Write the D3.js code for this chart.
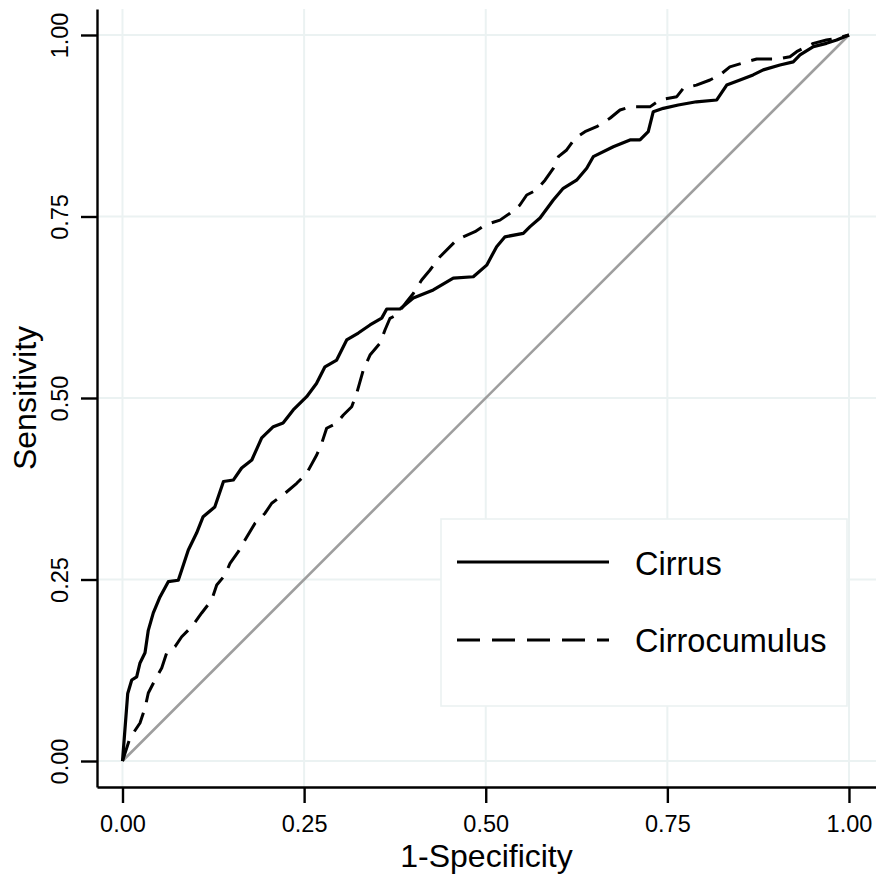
<!DOCTYPE html>
<html>
<head>
<meta charset="utf-8">
<script src="https://cdn.jsdelivr.net/npm/d3@7/dist/d3.min.js"></script>
<style>
  html, body { margin: 0; padding: 0; background: #fff; }
  svg { display: block; }
  text { font-family: "Liberation Sans", Arial, Helvetica, sans-serif; fill: #000; }
</style>
</head>
<body>
<svg id="chart" width="876" height="874"></svg>
<script>
// ROC curves: false-positive rate (1-Specificity) vs true-positive rate (Sensitivity)
const seriesNames = ["Cirrus", "Cirrocumulus"];

const cirrusFpr = [0, 0.0072, 0.0127, 0.0195, 0.0241, 0.031, 0.0355, 0.0424, 0.0516, 0.063,
  0.0768, 0.0815, 0.0906, 0.102, 0.111, 0.127, 0.139, 0.1525, 0.164, 0.178,
  0.1916, 0.2076, 0.221, 0.235, 0.2535, 0.267, 0.2787, 0.2948, 0.3086, 0.3246,
  0.3407, 0.3568, 0.3637, 0.382, 0.4003, 0.4278, 0.4553, 0.4829, 0.5013, 0.515,
  0.5265, 0.5517, 0.561, 0.5747, 0.593, 0.6067, 0.625, 0.639, 0.648, 0.6756,
  0.6986, 0.7123, 0.7237, 0.7306, 0.7444, 0.765, 0.79, 0.818, 0.8317, 0.85,
  0.868, 0.882, 0.905, 0.9233, 0.9326, 0.951, 0.969, 0.983, 1];
const cirrusTpr = [0, 0.093, 0.1116, 0.116, 0.135, 0.149, 0.18, 0.204, 0.226, 0.247,
  0.249, 0.263, 0.2906, 0.314, 0.3365, 0.35, 0.385, 0.387, 0.4036, 0.4146,
  0.445, 0.4605, 0.4656, 0.4835, 0.5018, 0.52, 0.543, 0.5523, 0.58, 0.5895,
  0.6006, 0.61, 0.6226, 0.6226, 0.6377, 0.6488, 0.665, 0.667, 0.683, 0.7084,
  0.722, 0.7268, 0.736, 0.748, 0.7727, 0.7888, 0.8, 0.8164, 0.8324, 0.846,
  0.8554, 0.8554, 0.8668, 0.8943, 0.899, 0.9036, 0.908, 0.9105, 0.931, 0.938,
  0.945, 0.952, 0.9587, 0.963, 0.9725, 0.984, 0.9885, 0.993, 1];

const cirrocumulusFpr = [0, 0.0103, 0.0241, 0.031, 0.0355, 0.0447, 0.054, 0.0608, 0.0723, 0.0815,
  0.0953, 0.109, 0.1228, 0.1297, 0.141, 0.148, 0.1594, 0.1686, 0.1824, 0.196,
  0.2054, 0.2237, 0.2398, 0.2535, 0.2673, 0.2742, 0.281, 0.2948, 0.304, 0.3155,
  0.3224, 0.3315, 0.3407, 0.3544, 0.3613, 0.3682, 0.3774, 0.3912, 0.4003, 0.4118,
  0.4233, 0.437, 0.46, 0.469, 0.4852, 0.499, 0.5196, 0.5334, 0.547, 0.5564,
  0.57, 0.5816, 0.593, 0.6, 0.6114, 0.6229, 0.6366, 0.6527, 0.671, 0.6848,
  0.6986, 0.726, 0.74, 0.763, 0.772, 0.79, 0.8087, 0.8224, 0.836, 0.859,
  0.873, 0.9027, 0.9188, 0.928, 0.937, 0.951, 0.969, 0.983, 1];
const cirrocumulusTpr = [0, 0.0317, 0.0523, 0.073, 0.0937, 0.1116, 0.128, 0.1488, 0.1575, 0.1712,
  0.185, 0.2039, 0.2218, 0.2424, 0.256, 0.2723, 0.2883, 0.3044, 0.3274, 0.341,
  0.355, 0.3687, 0.3825, 0.3963, 0.4215, 0.4376, 0.4583, 0.4651, 0.4766, 0.488,
  0.5065, 0.5386, 0.5592, 0.5753, 0.5937, 0.6098, 0.6143, 0.6326, 0.644, 0.6625,
  0.6763, 0.6946, 0.7176, 0.722, 0.729, 0.7383, 0.745, 0.7544, 0.7658, 0.7796,
  0.7865, 0.8, 0.8164, 0.8324, 0.8416, 0.8577, 0.8668, 0.8737, 0.8853, 0.8967,
  0.901, 0.901, 0.9105, 0.915, 0.9266, 0.931, 0.938, 0.945, 0.956, 0.963,
  0.967, 0.967, 0.97, 0.977, 0.9816, 0.9885, 0.993, 0.9955, 1];

const xTicks = [0, 0.25, 0.5, 0.75, 1];
const yTicks = [0, 0.25, 0.5, 0.75, 1];
const tickLabels = ["0.00", "0.25", "0.50", "0.75", "1.00"];

const svg = d3.select("#chart");
const W = 876, H = 874;
const panel = { left: 97, right: 876, top: 9, bottom: 787 };
const gridColor = "#ebf2f2";
const font = "'Liberation Sans', Arial, Helvetica, sans-serif";

const x = d3.scaleLinear().domain([-0.0351, 1.0372]).range([panel.left, panel.right]);
const y = d3.scaleLinear().domain([-0.0358, 1.0358]).range([panel.bottom, panel.top]);

svg.append("rect").attr("width", W).attr("height", H).attr("fill", "#fff");

// grid
const grid = svg.append("g");
grid.selectAll("line.gx").data(xTicks).join("line")
  .attr("x1", d => x(d)).attr("x2", d => x(d))
  .attr("y1", panel.top).attr("y2", panel.bottom)
  .attr("stroke", gridColor).attr("stroke-width", 2);
grid.selectAll("line.gy").data(yTicks).join("line")
  .attr("y1", d => y(d)).attr("y2", d => y(d))
  .attr("x1", panel.left).attr("x2", panel.right)
  .attr("stroke", gridColor).attr("stroke-width", 2);

// reference diagonal
svg.append("line")
  .attr("x1", x(0)).attr("y1", y(0)).attr("x2", x(1)).attr("y2", y(1))
  .attr("stroke", "#9e9e9e").attr("stroke-width", 2.6);

// curves
const line = d3.line().x(d => x(d[0])).y(d => y(d[1]));
const cirrus = cirrusFpr.map((v, i) => [v, cirrusTpr[i]]);
const cirrocumulus = cirrocumulusFpr.map((v, i) => [v, cirrocumulusTpr[i]]);
const dash = "21,11";

svg.append("path").datum(cirrocumulus)
  .attr("d", line).attr("fill", "none").attr("stroke", "#000")
  .attr("stroke-width", 3).attr("stroke-dasharray", dash)
  .attr("stroke-linejoin", "round");
svg.append("path").datum(cirrus)
  .attr("d", line).attr("fill", "none").attr("stroke", "#000")
  .attr("stroke-width", 3.2).attr("stroke-linejoin", "round");

// axes
const fmt = (d) => tickLabels[xTicks.indexOf(d)];
const xAxis = svg.append("g").attr("transform", `translate(0,${panel.bottom})`)
  .call(d3.axisBottom(x).tickValues(xTicks).tickFormat(fmt).tickSize(16).tickSizeOuter(0));
xAxis.select(".domain").attr("stroke", "#000").attr("stroke-width", 2.4);
xAxis.selectAll(".tick line").attr("stroke", "#000").attr("stroke-width", 2.4);
xAxis.selectAll(".tick text")
  .attr("y", 45).attr("dy", null)
  .attr("font-family", font).attr("font-size", 23.5).attr("fill", "#000");

const yAxis = svg.append("g").attr("transform", `translate(${panel.left},0)`)
  .call(d3.axisLeft(y).tickValues(yTicks).tickFormat(d => tickLabels[yTicks.indexOf(d)]).tickSize(16).tickSizeOuter(0));
yAxis.select(".domain").attr("stroke", "#000").attr("stroke-width", 2.4);
yAxis.selectAll(".tick line").attr("stroke", "#000").attr("stroke-width", 2.4);
yAxis.selectAll(".tick text")
  .attr("x", 0).attr("y", -29).attr("dy", null)
  .attr("transform", "rotate(-90)")
  .attr("text-anchor", "middle")
  .attr("font-family", font).attr("font-size", 23.5).attr("fill", "#000");

// axis titles
svg.append("text")
  .attr("x", (panel.left + panel.right) / 2).attr("y", 867)
  .attr("text-anchor", "middle").attr("font-size", 32).attr("font-family", font)
  .text("1-Specificity");
svg.append("text")
  .attr("transform", `translate(36,${(panel.top + panel.bottom) / 2}) rotate(-90)`)
  .attr("text-anchor", "middle").attr("font-size", 32).attr("font-family", font)
  .text("Sensitivity");

// legend
const legend = svg.append("g");
legend.append("rect")
  .attr("x", 441).attr("y", 519).attr("width", 406).attr("height", 187)
  .attr("fill", "#fff").attr("stroke", gridColor).attr("stroke-width", 1.6);
const legendRows = [
  { name: seriesNames[0], dash: null, ly: 562, ty: 575 },
  { name: seriesNames[1], dash: "23,12", ly: 640, ty: 652 }
];
legendRows.forEach(r => {
  legend.append("line")
    .attr("x1", 457).attr("x2", 609).attr("y1", r.ly).attr("y2", r.ly)
    .attr("stroke", "#000").attr("stroke-width", 2.8)
    .attr("stroke-dasharray", r.dash);
  legend.append("text")
    .attr("x", 635).attr("y", r.ty)
    .attr("font-size", 32.5).attr("font-family", font)
    .text(r.name);
});
</script>
</body>
</html>
